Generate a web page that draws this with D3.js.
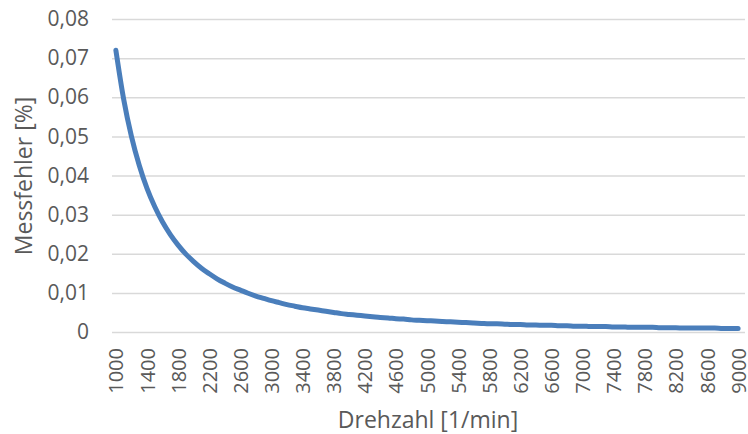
<!DOCTYPE html>
<head>
  <meta charset="utf-8">
  <script src="https://d3js.org/d3.v7.min.js"></script>
  <style>
    body { margin: 0; background: #fff; }
    text { font-family: "Open Sans", sans-serif; fill: #595959; }
  </style>
</head>
<body>
<script>
  // Drehzahl in 100er-Schritten, 1000 .. 9000
  var drehzahl = d3.range(1000, 9001, 100);

  // Messfehler [%]
  var messfehler = [
    0.0720, 0.0595, 0.0500, 0.0426, 0.0367, 0.0320, 0.0281, 0.0249, 0.0222, 0.0199,
    0.0180, 0.0163, 0.0149, 0.0136, 0.0125, 0.0115, 0.0107, 0.0099, 0.0092, 0.0086,
    0.0080, 0.0075, 0.0070, 0.0066, 0.0062, 0.0059, 0.0056, 0.0053, 0.0050, 0.0047,
    0.0045, 0.0043, 0.0041, 0.0039, 0.0037, 0.0036, 0.0034, 0.0033, 0.0031, 0.0030,
    0.0029, 0.0028, 0.0027, 0.0026, 0.0025, 0.0024, 0.0023, 0.0022, 0.0021, 0.0021,
    0.0020, 0.0019, 0.0019, 0.0018, 0.0018, 0.0017, 0.0017, 0.0016, 0.0016, 0.0015,
    0.0015, 0.0014, 0.0014, 0.0014, 0.0013, 0.0013, 0.0012, 0.0012, 0.0012, 0.0012,
    0.0011, 0.0011, 0.0011, 0.0010, 0.0010, 0.0010, 0.0010, 0.0010, 0.0009, 0.0009,
    0.0009
  ];

  var xLabels = ["1000", "1400", "1800", "2200", "2600", "3000", "3400", "3800", "4200", "4600",
                 "5000", "5400", "5800", "6200", "6600", "7000", "7400", "7800", "8200", "8600", "9000"];
  var yTicks = [0, 0.01, 0.02, 0.03, 0.04, 0.05, 0.06, 0.07, 0.08];

  var w = 748, h = 434;
  var plotLeft = 112, plotRight = 742, gridRight = 745, plotTop = 19, plotBottom = 332;

  var svg = d3.select("body").append("svg")
    .attr("width", w)
    .attr("height", h);

  var x = d3.scalePoint()
    .domain(drehzahl)
    .range([plotLeft, plotRight])
    .padding(0.5);

  var y = d3.scaleLinear()
    .domain([0, 0.08])
    .range([plotBottom, plotTop]);

  var fmt = function(d) { return d === 0 ? "0" : d3.format(".2f")(d).replace(".", ","); };

  // Gitterlinien + y-Beschriftung
  var yAxis = svg.append("g")
    .attr("transform", "translate(" + plotLeft + ",0)")
    .call(d3.axisLeft(y).tickValues(yTicks).tickFormat(fmt).tickSize(-(gridRight - plotLeft)).tickPadding(23));
  yAxis.select(".domain").remove();
  yAxis.selectAll("line").attr("stroke", "#d9d9d9").attr("stroke-width", 1.5);
  yAxis.selectAll("text").style("font-size", "21px").attr("fill", "#595959");

  // x-Beschriftung, senkrecht
  var xAxis = svg.append("g")
    .attr("transform", "translate(0," + plotBottom + ")")
    .call(d3.axisBottom(x).tickValues(xLabels.map(Number)).tickSize(0).tickFormat(d3.format("d")));
  xAxis.select(".domain").remove();
  xAxis.selectAll("text")
    .style("font-size", "20px")
    .attr("fill", "#595959")
    .attr("text-anchor", "end")
    .attr("dy", "0.35em")
    .attr("transform", "translate(0,16) rotate(-90)")
    .attr("x", 0)
    .attr("y", 0);

  // Kurve
  var line = d3.line()
    .x(function(d, i) { return x(drehzahl[i]); })
    .y(function(d) { return y(d); })
    .curve(d3.curveMonotoneX);

  svg.append("path")
    .datum(messfehler)
    .attr("d", line)
    .attr("fill", "none")
    .attr("stroke", "#4a7ebb")
    .attr("stroke-width", 5)
    .attr("stroke-linecap", "round")
    .attr("stroke-linejoin", "round");

  // Achsentitel
  svg.append("text")
    .attr("transform", "translate(32,176) rotate(-90)")
    .attr("text-anchor", "middle")
    .style("font-size", "23px")
    .text("Messfehler [%]");

  svg.append("text")
    .attr("x", 428)
    .attr("y", 428)
    .attr("text-anchor", "middle")
    .style("font-size", "23px")
    .text("Drehzahl [1/min]");
</script>
</body>
